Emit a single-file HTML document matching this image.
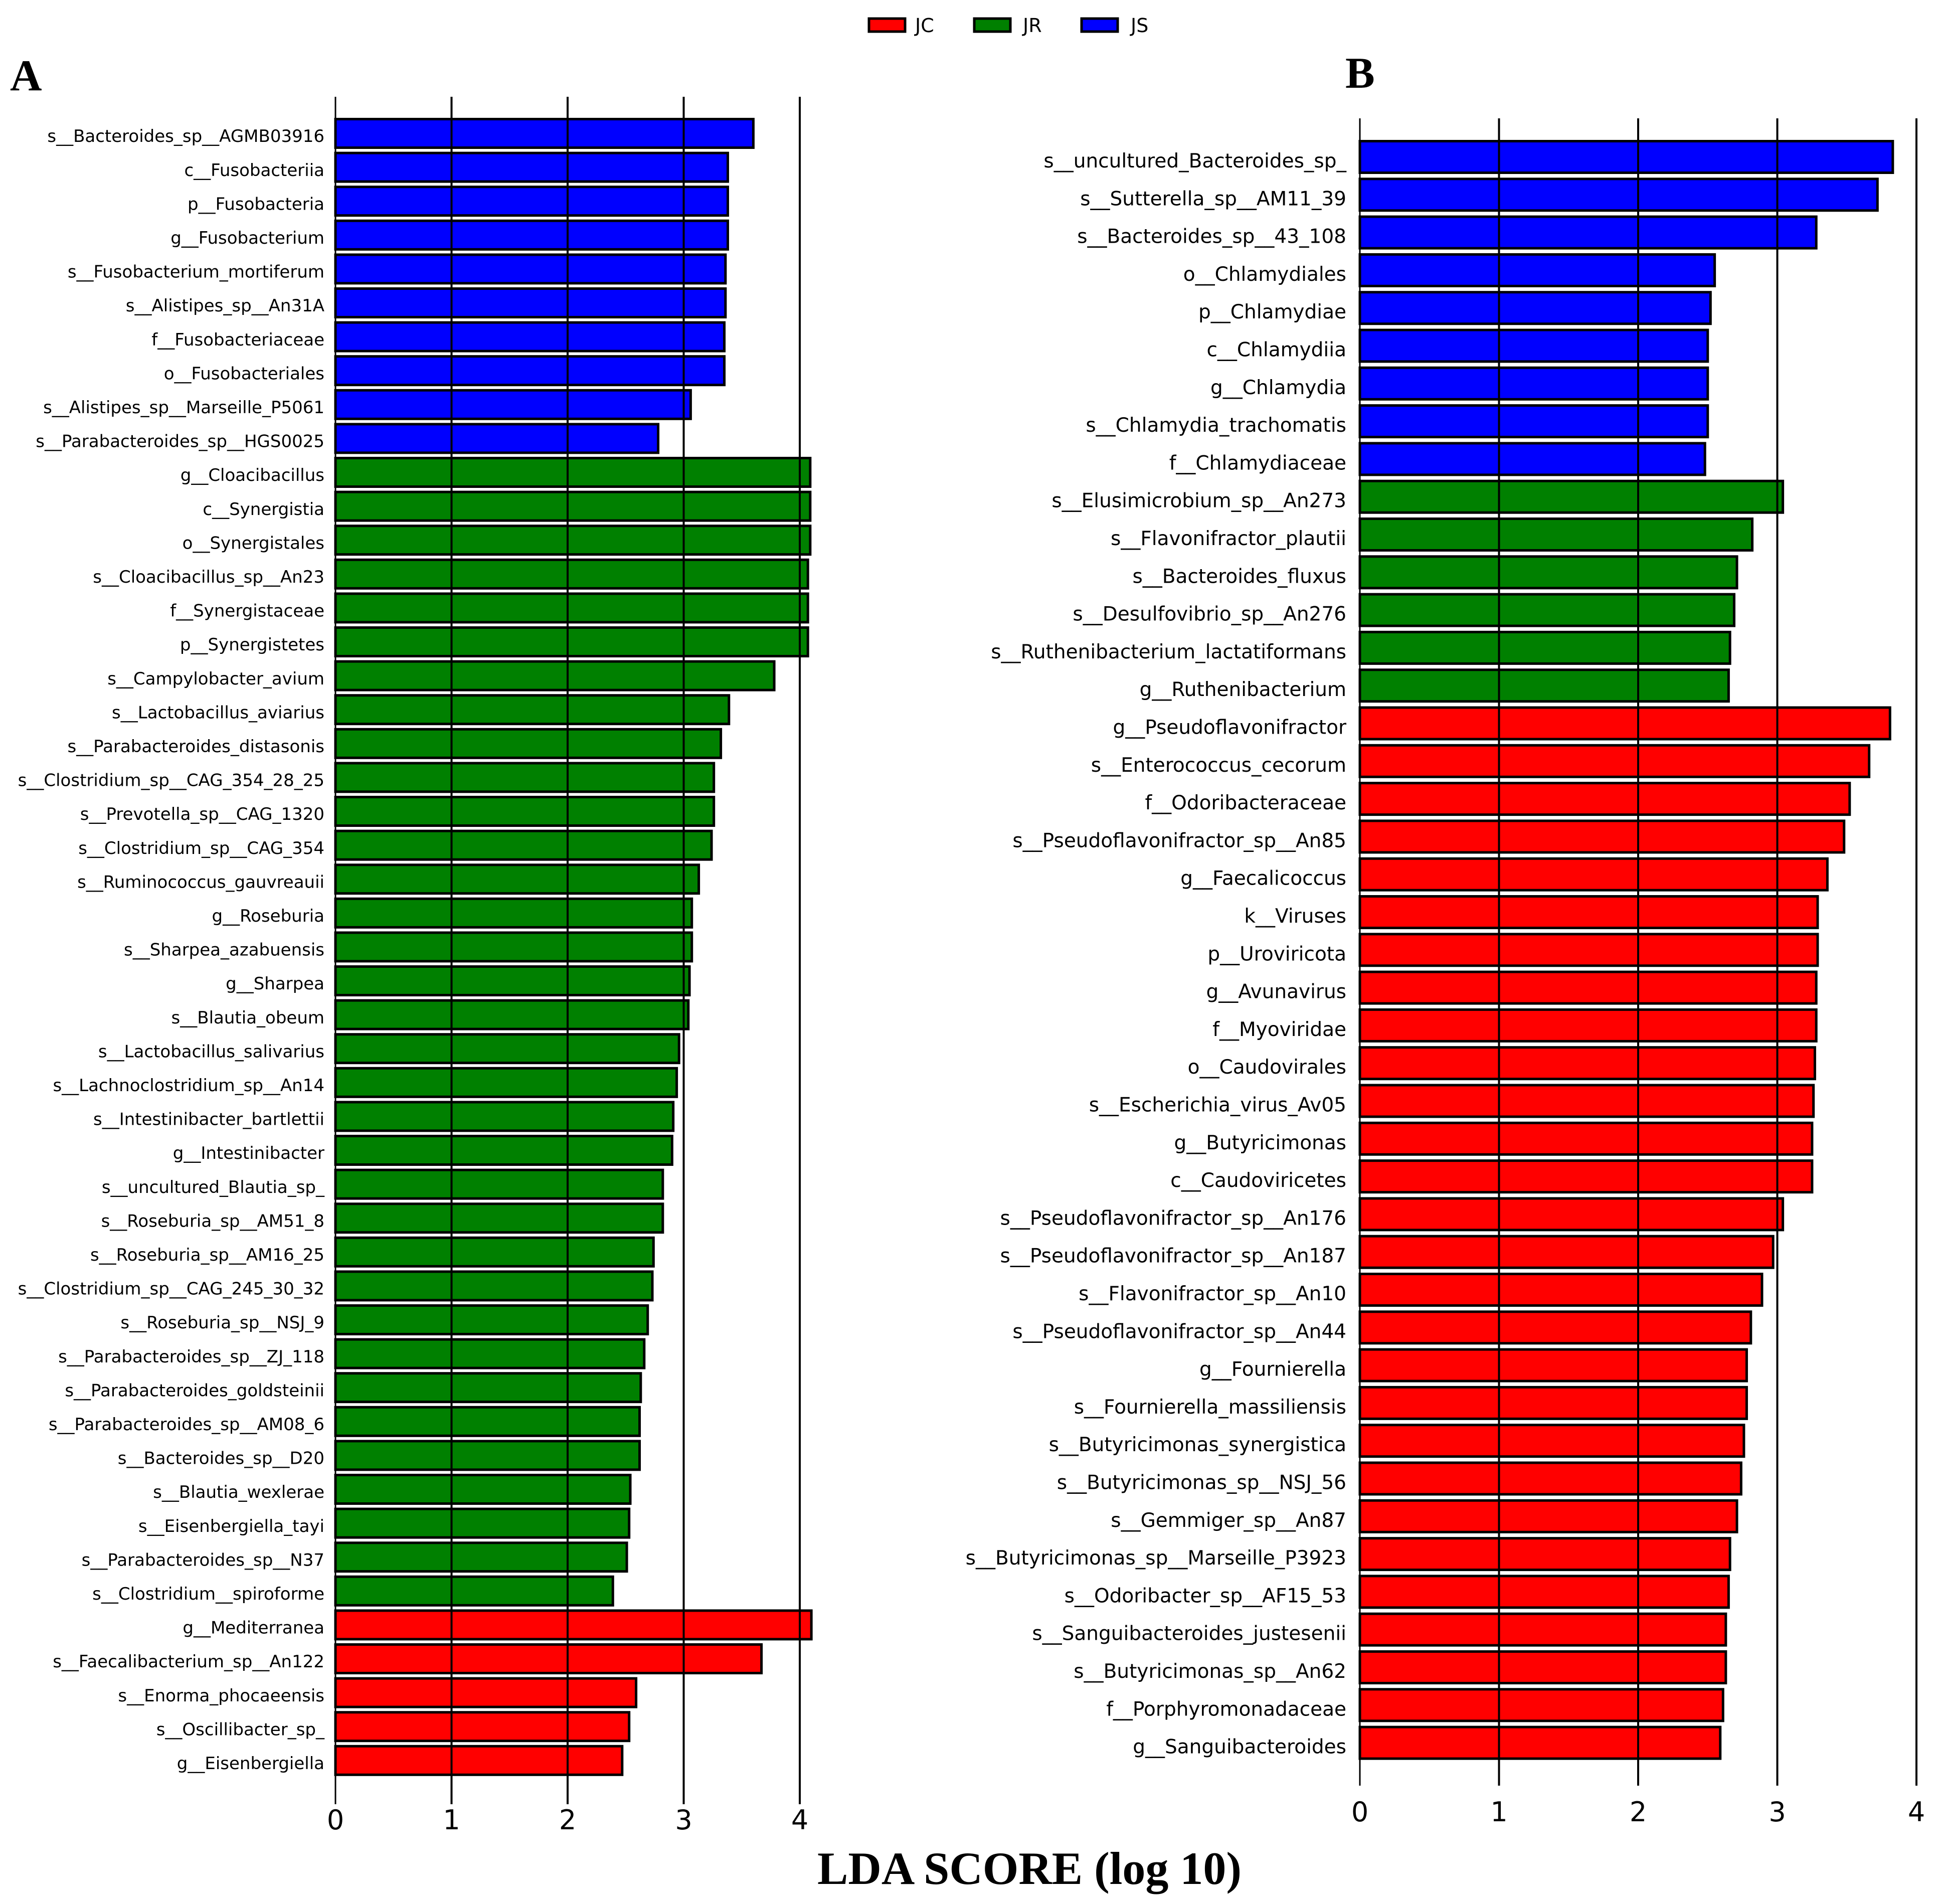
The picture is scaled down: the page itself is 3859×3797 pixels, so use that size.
<!DOCTYPE html>
<html><head><meta charset="utf-8"><style>
body{margin:0;background:#fff}
svg{display:block}
</style></head><body>
<svg id="chart" width="3859" height="3797" viewBox="0 0 3859 3797" xmlns="http://www.w3.org/2000/svg">
<rect width="3859" height="3797" fill="#fff"/>
<g font-family="DejaVu Sans, Liberation Sans, sans-serif" font-size="38">
 <rect x="1733" y="37" width="72" height="26" fill="#ff0000" stroke="#000" stroke-width="5"/>
 <text x="1825" y="64">JC</text>
 <rect x="1943" y="37" width="72" height="26" fill="#008000" stroke="#000" stroke-width="5"/>
 <text x="2040" y="64">JR</text>
 <rect x="2157" y="37" width="72" height="26" fill="#0000ff" stroke="#000" stroke-width="5"/>
 <text x="2255" y="64">JS</text>
</g>
<text x="20" y="180" font-family="Liberation Serif, serif" font-weight="bold" font-size="88">A</text>
<text x="2683" y="175" font-family="Liberation Serif, serif" font-weight="bold" font-size="88">B</text>
<text x="2053" y="3757" text-anchor="middle" font-family="Liberation Serif, serif" font-weight="bold" font-size="92">LDA SCORE (log 10)</text>
<g id="pa"></g>
<g id="pb"></g>
</svg>
<script>
const COLORS = {JC:'#ff0000', JR:'#008000', JS:'#0000ff'};
const ticks = [0,1,2,3,4];
const labelsA = ["s__Bacteroides_sp__AGMB03916","c__Fusobacteriia","p__Fusobacteria","g__Fusobacterium","s__Fusobacterium_mortiferum","s__Alistipes_sp__An31A","f__Fusobacteriaceae","o__Fusobacteriales","s__Alistipes_sp__Marseille_P5061","s__Parabacteroides_sp__HGS0025","g__Cloacibacillus","c__Synergistia","o__Synergistales","s__Cloacibacillus_sp__An23","f__Synergistaceae","p__Synergistetes","s__Campylobacter_avium","s__Lactobacillus_aviarius","s__Parabacteroides_distasonis","s__Clostridium_sp__CAG_354_28_25","s__Prevotella_sp__CAG_1320","s__Clostridium_sp__CAG_354","s__Ruminococcus_gauvreauii","g__Roseburia","s__Sharpea_azabuensis","g__Sharpea","s__Blautia_obeum","s__Lactobacillus_salivarius","s__Lachnoclostridium_sp__An14","s__Intestinibacter_bartlettii","g__Intestinibacter","s__uncultured_Blautia_sp_","s__Roseburia_sp__AM51_8","s__Roseburia_sp__AM16_25","s__Clostridium_sp__CAG_245_30_32","s__Roseburia_sp__NSJ_9","s__Parabacteroides_sp__ZJ_118","s__Parabacteroides_goldsteinii","s__Parabacteroides_sp__AM08_6","s__Bacteroides_sp__D20","s__Blautia_wexlerae","s__Eisenbergiella_tayi","s__Parabacteroides_sp__N37","s__Clostridium__spiroforme","g__Mediterranea","s__Faecalibacterium_sp__An122","s__Enorma_phocaeensis","s__Oscillibacter_sp_","g__Eisenbergiella"];
const valuesA = [3.60,3.38,3.38,3.38,3.36,3.36,3.35,3.35,3.06,2.78,4.09,4.09,4.09,4.07,4.07,4.07,3.78,3.39,3.32,3.26,3.26,3.24,3.13,3.07,3.07,3.05,3.04,2.96,2.94,2.91,2.90,2.82,2.82,2.74,2.73,2.69,2.66,2.63,2.62,2.62,2.54,2.53,2.51,2.39,4.10,3.67,2.59,2.53,2.47];
const groupsA = ["JS","JS","JS","JS","JS","JS","JS","JS","JS","JS","JR","JR","JR","JR","JR","JR","JR","JR","JR","JR","JR","JR","JR","JR","JR","JR","JR","JR","JR","JR","JR","JR","JR","JR","JR","JR","JR","JR","JR","JR","JR","JR","JR","JR","JC","JC","JC","JC","JC"];
const labelsB = ["s__uncultured_Bacteroides_sp_","s__Sutterella_sp__AM11_39","s__Bacteroides_sp__43_108","o__Chlamydiales","p__Chlamydiae","c__Chlamydiia","g__Chlamydia","s__Chlamydia_trachomatis","f__Chlamydiaceae","s__Elusimicrobium_sp__An273","s__Flavonifractor_plautii","s__Bacteroides_fluxus","s__Desulfovibrio_sp__An276","s__Ruthenibacterium_lactatiformans","g__Ruthenibacterium","g__Pseudoflavonifractor","s__Enterococcus_cecorum","f__Odoribacteraceae","s__Pseudoflavonifractor_sp__An85","g__Faecalicoccus","k__Viruses","p__Uroviricota","g__Avunavirus","f__Myoviridae","o__Caudovirales","s__Escherichia_virus_Av05","g__Butyricimonas","c__Caudoviricetes","s__Pseudoflavonifractor_sp__An176","s__Pseudoflavonifractor_sp__An187","s__Flavonifractor_sp__An10","s__Pseudoflavonifractor_sp__An44","g__Fournierella","s__Fournierella_massiliensis","s__Butyricimonas_synergistica","s__Butyricimonas_sp__NSJ_56","s__Gemmiger_sp__An87","s__Butyricimonas_sp__Marseille_P3923","s__Odoribacter_sp__AF15_53","s__Sanguibacteroides_justesenii","s__Butyricimonas_sp__An62","f__Porphyromonadaceae","g__Sanguibacteroides"];
const valuesB = [3.83,3.72,3.28,2.55,2.52,2.50,2.50,2.50,2.48,3.04,2.82,2.71,2.69,2.66,2.65,3.81,3.66,3.52,3.48,3.36,3.29,3.29,3.28,3.28,3.27,3.26,3.25,3.25,3.04,2.97,2.89,2.81,2.78,2.78,2.76,2.74,2.71,2.66,2.65,2.63,2.63,2.61,2.59];
const groupsB = ["JS","JS","JS","JS","JS","JS","JS","JS","JS","JR","JR","JR","JR","JR","JR","JC","JC","JC","JC","JC","JC","JC","JC","JC","JC","JC","JC","JC","JC","JC","JC","JC","JC","JC","JC","JC","JC","JC","JC","JC","JC","JC","JC"];

const NS='http://www.w3.org/2000/svg';
function mk(tag, attrs, parent){const e=document.createElementNS(NS,tag);for(const k in attrs)e.setAttribute(k,attrs[k]);parent.appendChild(e);return e;}

function panel(g, cfg, labels, values, groups, key){
  const xs = v => cfg.x0 + v*cfg.unit;
  const ys = i => cfg.c0 + i*cfg.step;
  labels.forEach((lab,i)=>{
    const r = mk('rect',{x:xs(0),y:ys(i)-cfg.bh/2,width:xs(values[i])-xs(0),height:cfg.bh,fill:COLORS[groups[i]],stroke:'#000','stroke-width':5},g);
    
    
    const t = mk('text',{x:cfg.lx,y:ys(i)+cfg.fs*0.36+cfg.dy,'text-anchor':'end','font-family':'DejaVu Sans, Liberation Sans, sans-serif','font-size':cfg.fs},g);
    t.textContent = lab;
    
    
  });
  ticks.forEach(v=>{
    const l = mk('line',{x1:xs(v),x2:xs(v),y1:cfg.top,y2:cfg.bot,stroke:'#000','stroke-width':v===0?3:4},g);
    
    
    const t = mk('text',{x:xs(v),y:cfg.ty,'text-anchor':'middle','font-family':'DejaVu Sans, Liberation Sans, sans-serif','font-size':54},g);
    t.textContent = v;
    
    
  });
}
panel(document.getElementById('pa'),{x0:669,unit:231.5,c0:266,step:67.6,bh:57,top:193,bot:3598,lx:647,fs:34,dy:5,ty:3648},labelsA,valuesA,groupsA,'a');
panel(document.getElementById('pb'),{x0:2712,unit:277.5,c0:313,step:75.3,bh:63,top:236,bot:3561,lx:2685,fs:39,dy:7,ty:3632},labelsB,valuesB,groupsB,'b');
</script>
</body></html>
